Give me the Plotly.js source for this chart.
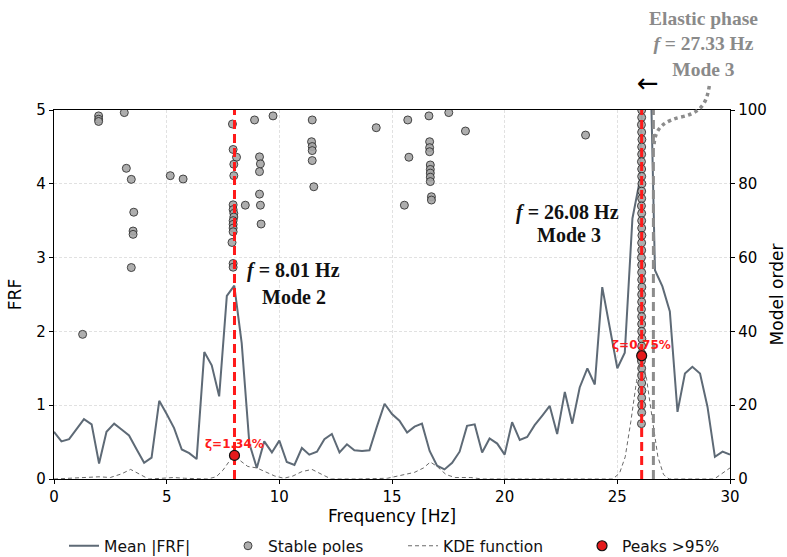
<!DOCTYPE html>
<html>
<head>
<meta charset="utf-8">
<script src="https://cdn.plot.ly/plotly-3.0.1.min.js"></script>
<style>
  html, body { margin: 0; padding: 0; background: #ffffff; }
  #chart { width: 787px; height: 557px; }
</style>
</head>
<body>
<div id="chart"></div>
<script>
// Mean |FRF| spectrum (frequency in Hz, amplitude)
const frfFreq = [0, 0.33, 0.67, 1, 1.33, 1.67, 2, 2.33, 2.67, 3,
  3.33, 3.67, 4, 4.33, 4.67, 5, 5.33, 5.67, 6, 6.33,
  6.67, 7, 7.33, 7.67, 8, 8.33, 8.67, 9, 9.33, 9.67,
  10, 10.33, 10.67, 11, 11.33, 11.67, 12, 12.33, 12.67, 13,
  13.33, 13.67, 14, 14.33, 14.67, 15, 15.33, 15.67, 16, 16.33,
  16.67, 17, 17.33, 17.67, 18, 18.33, 18.67, 19, 19.33, 19.67,
  20, 20.33, 20.67, 21, 21.33, 21.67, 22, 22.33, 22.67, 23,
  23.33, 23.67, 24, 24.33, 24.67, 25, 25.33, 25.67, 26, 26.33,
  26.67, 27, 27.33, 27.67, 28, 28.33, 28.67, 29, 29.33, 29.67,
  30];
const frfMean = [0.64, 0.51, 0.54, 0.68, 0.81, 0.74, 0.21, 0.64, 0.75, 0.67,
  0.59, 0.40, 0.22, 0.29, 1.06, 0.88, 0.69, 0.40, 0.35, 0.27,
  1.72, 1.54, 1.12, 2.48, 2.62, 1.84, 0.48, 0.15, 0.51, 0.36,
  0.52, 0.23, 0.19, 0.42, 0.33, 0.37, 0.54, 0.61, 0.36, 0.47,
  0.39, 0.38, 0.39, 0.71, 1.02, 0.88, 0.79, 0.63, 0.71, 0.75,
  0.38, 0.18, 0.13, 0.22, 0.37, 0.72, 0.74, 0.36, 0.55, 0.48,
  0.33, 0.77, 0.53, 0.57, 0.73, 0.86, 0.99, 0.61, 1.18, 0.75,
  1.24, 1.50, 1.28, 2.60, 2.05, 1.50, 1.71, 3.53, 4.05, 7.60,
  2.83, 2.61, 2.27, 0.91, 1.43, 1.52, 1.43, 0.98, 0.30, 0.37,
  0.33];

// Kernel density of the stable pole frequencies (same scale as FRF)
const kdeFreq = [0, 0.5, 1, 1.5, 2, 2.5, 3, 3.4, 3.8, 4.2,
  4.8, 5.3, 5.8, 6.3, 6.8, 7.2, 7.5, 7.8, 8.01, 8.3,
  8.6, 9, 9.4, 9.8, 10.2, 10.6, 11, 11.45, 11.9, 12.3,
  13.5, 14.8, 15.4, 16, 16.4, 16.7, 17, 17.4, 17.8, 18.5,
  19, 24.8, 25.1, 25.35, 25.6, 25.85, 26.08, 26.3, 26.55, 26.8,
  27.05, 27.3, 29.3, 29.6, 30];
const kdeValue = [0.00, 0.01, 0.02, 0.03, 0.03, 0.02, 0.07, 0.13, 0.07, 0.00,
  0.01, 0.02, 0.01, 0.00, 0.00, 0.03, 0.12, 0.25, 0.32, 0.24,
  0.17, 0.15, 0.10, 0.04, 0.01, 0.04, 0.10, 0.13, 0.06, 0.00,
  0.00, 0.01, 0.05, 0.09, 0.15, 0.23, 0.17, 0.06, 0.02, 0.02,
  0.00, 0.00, 0.08, 0.30, 0.78, 1.32, 1.67, 1.35, 0.82, 0.30,
  0.06, 0.00, 0.00, 0.06, 0.15];

// Stable poles of the stabilisation diagram (frequency in Hz, model order)
const poleFreq = [1.27,
  1.98, 1.98, 1.98,
  3.12, 3.21, 3.43, 3.54, 3.51, 3.51, 3.43,
  5.16, 5.73,
  7.92, 7.95, 8.10, 7.98, 7.98, 7.95, 7.95, 7.98, 7.98, 7.95, 7.95, 7.95, 7.95, 7.90, 7.95, 7.95,
  8.49,
  8.90, 9.72,
  9.12, 9.16, 9.12, 9.12, 9.16, 9.19,
  11.46, 11.43, 11.46, 11.46, 11.46, 11.53,
  14.30,
  15.70, 15.75, 15.55,
  16.64, 17.52,
  16.67, 16.67, 16.67, 16.70, 16.70, 16.70, 16.70, 16.70, 16.75, 16.75,
  18.26, 23.59,
  26.08, 26.08, 26.07, 26.08, 26.09, 26.08, 26.08, 26.07, 26.08, 26.08,
  26.09, 26.08, 26.08, 26.07, 26.08, 26.08, 26.08, 26.09, 26.08, 26.08,
  26.07, 26.08, 26.08, 26.08, 26.09, 26.08, 26.08, 26.07, 26.08, 26.08,
  26.08, 26.09, 26.08, 26.08, 26.07, 26.08, 26.08, 26.08, 26.09, 26.08,
  26.08, 26.08, 26.07];
const poleOrder = [39.2,
  98.4, 97.5, 96.9,
  99.3, 84.2, 81.2, 72.3, 67.2, 66.3, 57.3,
  82.2, 81.3,
  96.2, 89.3, 87.2, 85.3, 82.2, 74.3, 73.0, 72.0, 71.0, 70.0, 69.0, 68.0, 67.0, 64.1, 58.4, 57.4,
  74.2,
  97.3, 98.4,
  87.3, 85.4, 83.3, 77.2, 74.2, 69.1,
  97.3, 91.4, 90.1, 89.0, 86.3, 79.2,
  95.2,
  97.3, 87.2, 74.2,
  98.4, 99.3,
  91.4, 89.8, 88.7, 85.1, 83.9, 82.9, 81.8, 80.6, 76.5, 75.6,
  94.3, 93.2,
  100, 98, 96, 94, 92, 90, 88, 86, 84, 82,
  80, 78, 76, 74, 72, 70, 68, 66, 64, 62,
  60, 58, 56, 54, 52, 50, 48, 46, 44, 42,
  40, 38, 36, 34, 32, 30, 28, 26, 24, 22,
  20, 18, 15];

// Identified modes: KDE peaks above the 95 % level
const peakFreq = [8.01, 26.08];
const peakKde = [0.32, 1.67];
const peakZeta = [1.34, 0.75];
const peakMode = ['Mode 2', 'Mode 3'];

// Reference line of the elastic phase and its label
const elasticLineFreq = 26.6;
const elasticLabel = ['Elastic phase', '<i>f</i> = 27.33 Hz', 'Mode 3'];

const sans = 'DejaVu Sans, sans-serif';
const serif = 'Liberation Serif, Times New Roman, serif';

const traces = [
  {
    x: frfFreq, y: frfMean, yaxis: 'y', type: 'scatter', mode: 'lines',
    name: 'Mean |FRF|', legend: 'legend', line: { color: '#5e6a76', width: 2 }
  },
  {
    x: poleFreq, y: poleOrder, yaxis: 'y2', type: 'scatter', mode: 'markers',
    name: 'Stable poles', legend: 'legend2',
    marker: { size: 8, color: '#a6a6a6', opacity: 0.9, line: { color: '#2f2f2f', width: 1 } }
  },
  {
    x: kdeFreq, y: kdeValue, yaxis: 'y3', type: 'scatter', mode: 'lines',
    name: 'KDE function', legend: 'legend3',
    line: { color: '#6a6a6a', width: 1, dash: '4px,3px' }
  }
];

// vertical markers for the identified modes and the elastic-phase reference
peakFreq.forEach(function (f) {
  traces.push({
    x: [f, f], y: [0, 5], yaxis: 'y3', type: 'scatter', mode: 'lines',
    showlegend: false, hoverinfo: 'skip',
    line: { color: '#ff1a1a', width: 3, dash: '9px,5px' }
  });
});
traces.push({
  x: [elasticLineFreq, elasticLineFreq], y: [0, 5], yaxis: 'y3', type: 'scatter', mode: 'lines',
  showlegend: false, hoverinfo: 'skip',
  line: { color: '#8c8c8c', width: 3, dash: '9px,5px' }
});
traces.push({
  x: peakFreq, y: peakKde, yaxis: 'y3', type: 'scatter', mode: 'markers',
  name: 'Peaks >95%', legend: 'legend4',
  marker: { size: 10, color: '#e41a1c', line: { color: '#111111', width: 1.2 } }
});

const annotations = [];
peakFreq.forEach(function (f, i) {
  annotations.push({
    x: f, y: peakKde[i], xref: 'x', yref: 'y3', showarrow: false,
    xanchor: 'center', yanchor: 'middle',
    yshift: 11, text: '<b>ζ=' + peakZeta[i].toFixed(2) + '%</b>',
    font: { family: sans, size: 12, color: '#ff1a1a' }
  });
});
// mode labels: [x, y] of the frequency line and of the mode line
const modeLabelPos = [[10.65, 2.82, 10.65, 2.46], [22.8, 3.61, 22.85, 3.31]];
peakFreq.forEach(function (f, i) {
  const p = modeLabelPos[i];
  annotations.push({
    x: p[0], y: p[1], xref: 'x', yref: 'y3', showarrow: false,
    xanchor: 'center', yanchor: 'middle',
    text: '<b><i>f</i> = ' + f.toFixed(2) + ' Hz</b>',
    font: { family: serif, size: 20, color: '#111111' }
  });
  annotations.push({
    x: p[2], y: p[3], xref: 'x', yref: 'y3', showarrow: false,
    xanchor: 'center', yanchor: 'middle',
    text: '<b>' + peakMode[i] + '</b>',
    font: { family: serif, size: 20, color: '#111111' }
  });
});
annotations.push({
  x: 0.9607, y: 1.179, xref: 'paper', yref: 'paper', showarrow: false,
  xanchor: 'center', yanchor: 'middle', align: 'center',
  text: '<b>' + elasticLabel.join('<br>') + '</b>',
  font: { family: serif, size: 19.5, color: '#8a8a8a' }
});
annotations.push({
  x: 0.8787, y: 1.072, xref: 'paper', yref: 'paper', showarrow: false,
  xanchor: 'center', yanchor: 'middle',
  text: '←', font: { family: sans, size: 26, color: '#000000' }
});

const legendBase = {
  y: -0.136, xanchor: 'left', yanchor: 'top',
  font: { family: sans, size: 15.5, color: '#111111' },
  bgcolor: 'rgba(0,0,0,0)', borderwidth: 0
};

const gridStyle = { showgrid: true, gridcolor: '#d9d9d9', griddash: '3px,2px', gridwidth: 0.8 };

const layout = {
  width: 787, height: 557,
  margin: { l: 54, r: 57, t: 110, b: 78, pad: 0, autoexpand: false },
  paper_bgcolor: '#ffffff', plot_bgcolor: '#ffffff',
  font: { family: sans, size: 15, color: '#000000' },
  showlegend: true,
  legend: Object.assign({}, legendBase, { x: 0.0148 }),
  legend2: Object.assign({}, legendBase, { x: 0.2574 }),
  legend3: Object.assign({}, legendBase, { x: 0.5163 }),
  legend4: Object.assign({}, legendBase, { x: 0.7811 }),
  xaxis: Object.assign({
    range: [0, 30], tickvals: [0, 5, 10, 15, 20, 25, 30],
    showline: true, linecolor: '#000000', linewidth: 1.3, mirror: true,
    ticks: 'outside', ticklen: 4, tickcolor: '#000000',
    zeroline: false,
    tickfont: { family: sans, size: 15 },
    title: { text: 'Frequency [Hz]', font: { family: sans, size: 17 }, standoff: 4 }
  }, gridStyle),
  yaxis: Object.assign({
    range: [0, 5], tickvals: [0, 1, 2, 3, 4, 5], side: 'left',
    showline: true, linecolor: '#000000', linewidth: 1.2,
    ticks: 'outside', ticklen: 4, tickcolor: '#000000',
    zeroline: false,
    tickfont: { family: sans, size: 15 },
    title: { text: 'FRF', font: { family: sans, size: 17 }, standoff: 10 }
  }, gridStyle),
  yaxis2: {
    range: [0, 100], tickvals: [0, 20, 40, 60, 80, 100], side: 'right',
    overlaying: 'y', anchor: 'x',
    showline: true, linecolor: '#000000', linewidth: 1.2,
    ticks: 'outside', ticklen: 4, tickcolor: '#000000',
    showgrid: false, zeroline: false,
    tickfont: { family: sans, size: 15 },
    title: { text: 'Model order', font: { family: sans, size: 17 }, standoff: 8 }
  },
  yaxis3: {
    range: [0, 5], overlaying: 'y', anchor: 'x', visible: false,
    showgrid: false, zeroline: false
  },
  annotations: annotations,
  shapes: [
    {
      type: 'path', xref: 'paper', yref: 'paper', layer: 'above',
      path: 'M 0.9694,1.065 C 0.966,1.03 0.962,0.995 0.93,0.982 C 0.905,0.972 0.888,0.955 0.8876,0.9005',
      line: { color: '#8c8c8c', width: 3.5, dash: 'dot' }
    }
  ]
};

Plotly.newPlot('chart', traces, layout, { staticPlot: true, displayModeBar: false });
</script>
</body>
</html>
